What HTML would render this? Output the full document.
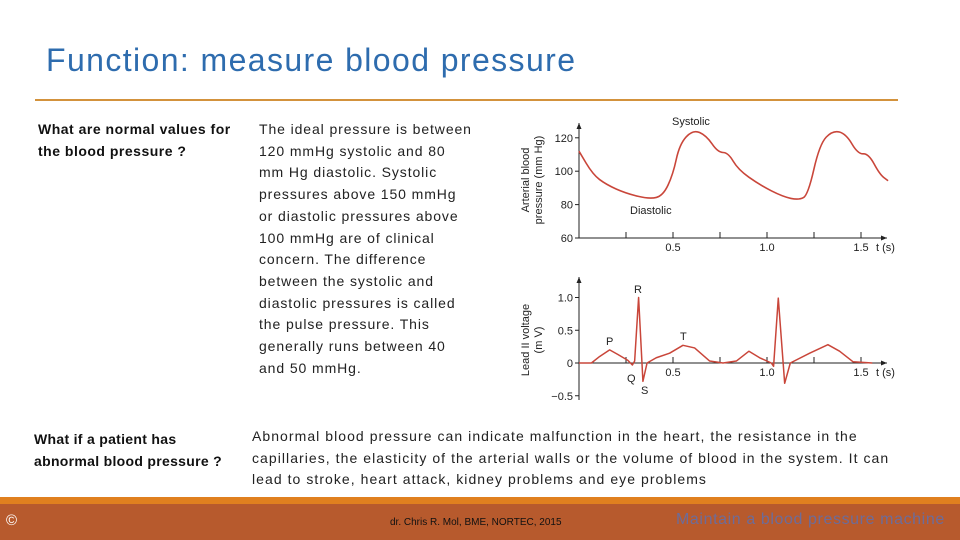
<!DOCTYPE html>
<html><head><meta charset="utf-8">
<style>
body{margin:0;width:960px;height:540px;position:relative;overflow:hidden;background:#fff;font-family:"Liberation Sans",sans-serif;}
.abs{position:absolute;}
.t{font-size:14px;line-height:21.7px;color:#222;white-space:nowrap;}
</style></head><body>
<div class="abs" style="left:46px;top:42px;font-size:32px;color:#2E6CAE;letter-spacing:1.4px;white-space:nowrap;">Function: measure blood pressure</div>
<div class="abs" style="left:35px;top:99px;width:863px;height:2px;background:#D3923C;"></div>
<div class="abs t" style="left:38px;top:119px;font-weight:bold;font-size:14px;color:#111;letter-spacing:0.5px;">What are normal values for<br>the blood pressure ?</div>
<div class="abs t" style="left:259px;top:119px;letter-spacing:0.9px;">The ideal pressure is between<br>120 mmHg systolic and 80<br>mm Hg diastolic. Systolic<br>pressures above 150 mmHg<br>or diastolic pressures above<br>100 mmHg are of clinical<br>concern. The difference<br>between the systolic and<br>diastolic pressures is called<br>the pulse pressure. This<br>generally runs between 40<br>and 50 mmHg.</div>
<div class="abs t" style="left:34px;top:429px;font-weight:bold;font-size:14px;color:#111;letter-spacing:0.3px;">What if a patient has<br>abnormal blood pressure ?</div>
<div class="abs t" style="left:252px;top:426px;letter-spacing:1.05px;">Abnormal blood pressure can indicate malfunction in the heart, the resistance in the<br>capillaries, the elasticity of the arterial walls or the volume of blood in the system. It can<br>lead to stroke, heart attack, kidney problems and eye problems</div>
<div class="abs" style="left:0;top:497px;width:960px;height:7px;background:#E0801F;"></div>
<div class="abs" style="left:0;top:504px;width:960px;height:36px;background:#B75A2D;"></div>
<div class="abs" style="left:6px;top:512px;font-size:15px;color:#fff;">©</div>
<div class="abs" style="left:390px;top:517px;font-size:10px;color:#111;">dr. Chris R. Mol, BME, NORTEC, 2015</div>
<div class="abs" style="left:676px;top:511px;font-size:16px;color:#6C6C9A;letter-spacing:0.6px;white-space:nowrap;">Maintain a blood pressure machine</div>

<svg class="abs" style="left:0;top:0" width="960" height="540" font-family="Liberation Sans, sans-serif">
<g id="bp"></g>
<g id="ecg"></g>
</svg>
<script>
const bpT=[0,0.074,0.145,0.25,0.376,0.447,0.5,0.535,0.606,0.677,0.739,0.793,0.846,0.961,1.085,1.17,1.218,1.28,1.35,1.42,1.484,1.54,1.6,1.644];
const bpP=[112,98,92,86.7,83.3,85.3,98,116.3,124.9,121.4,111.2,111.2,101,91.8,84.7,82.7,85.7,116.3,124.5,122.4,110.2,110.6,98,94.3];
const bpYTicks=[60,80,100,120];
const ecgT=[0,0.066,0.11,0.163,0.207,0.26,0.284,0.296,0.317,0.34,0.362,0.411,0.482,0.553,0.615,0.695,0.766,0.837,0.904,0.961,1.023,1.035,1.06,1.094,1.124,1.227,1.324,1.386,1.457,1.56];
const ecgV=[0,0,0.1,0.2,0.13,0.04,-0.03,0.03,1.0,-0.28,0,0.08,0.15,0.27,0.23,0.03,0,0.03,0.18,0.08,0,-0.05,0.99,-0.31,0,0.15,0.28,0.18,0.02,0];
const ecgYTicks=[-0.5,0,0.5,1.0];
const ecgYLabels=["\u22120.5","0","0.5","1.0"];
const xTickLabels=["0.5","1.0","1.5"];
const xTicks=[0.25,0.5,0.75,1.0,1.25,1.5];
const NS="http://www.w3.org/2000/svg";
const X=t=>579+t*188;
const bpY=p=>238-(p-60)*33.4/20;
const ecgY=v=>363-v*65.5;
function el(tag,attrs,parent,txt){const e=document.createElementNS(NS,tag);for(const k in attrs)e.setAttribute(k,attrs[k]);if(txt!==undefined)e.textContent=txt;parent.appendChild(e);return e;}
function path(xs,ys){let d="M"+xs[0]+","+ys[0];for(let i=1;i<xs.length;i++){const x0=xs[i-1],y0=ys[i-1],x1=xs[i],y1=ys[i];const mx=(x0+x1)/2;d+=" Q"+x0+","+y0+" "+mx+","+(y0+y1)/2;}d+=" L"+xs[xs.length-1]+","+ys[ys.length-1];return d;}
function axes(g,y0,yTop,yBot,ticks,labels,yf,name){
  let a=el("line",{x1:X(0),y1:yBot,x2:X(0),y2:yTop,stroke:"#222","stroke-width":1},g);
  
  el("path",{d:`M${X(0)-2.5},${yTop+6} L${X(0)},${yTop} L${X(0)+2.5},${yTop+6}Z`,fill:"#222"},g);
  let b=el("line",{x1:X(0),y1:y0,x2:887,y2:y0,stroke:"#222","stroke-width":1},g);
  
  el("path",{d:`M881,${y0-2.5} L887,${y0} L881,${y0+2.5}Z`,fill:"#222"},g);
  xTicks.forEach(t=>el("line",{x1:X(t),x2:X(t),y1:y0-6,y2:y0,stroke:"#222"},g));
  ticks.forEach((v,i)=>{el("line",{x1:X(0)-4,x2:X(0),y1:yf(v),y2:yf(v),stroke:"#222"},g);
    const tx=el("text",{x:X(0)-6,y:yf(v)+4,"font-size":11,"text-anchor":"end",fill:"#222"},g,labels[i]);
    });
  [0.5,1.0,1.5].forEach((t,i)=>{const tx=el("text",{x:X(t),y:y0+13,"font-size":11,"text-anchor":"middle",fill:"#222"},g,xTickLabels[i]);
    });
  el("text",{x:876,y:y0+13,"font-size":11,fill:"#222"},g,"t (s)");
}
const bp=document.getElementById("bp");
axes(bp,238,123,238,bpYTicks,bpYTicks.map(String),bpY,"bp");
let l1=el("path",{d:path(bpT.map(X),bpP.map(bpY)),fill:"none",stroke:"#C9463A","stroke-width":1.6},bp);

el("text",{x:672,y:125,"font-size":11,fill:"#222"},bp,"Systolic");
el("text",{x:630,y:214,"font-size":11,fill:"#222"},bp,"Diastolic");
let yt=el("text",{transform:"translate(529,180) rotate(-90)","font-size":11,"text-anchor":"middle",fill:"#222"},bp);
el("tspan",{x:0,dy:0},yt,"Arterial blood");el("tspan",{x:0,dy:13},yt,"pressure (mm Hg)");

const ecg=document.getElementById("ecg");
axes(ecg,363,277,400,ecgYTicks,ecgYLabels,ecgY,"ecg");
let l2=el("path",{d:"M"+ecgT.map((t,i)=>X(t)+","+ecgY(ecgV[i])).join(" L"),fill:"none",stroke:"#C9463A","stroke-width":1.5,"stroke-linejoin":"round"},ecg);

[["P",606,345],["R",634,293],["T",680,340],["Q",627,382],["S",641,394]].forEach(a=>el("text",{x:a[1],y:a[2],"font-size":11,fill:"#222"},ecg,a[0]));
let yt2=el("text",{transform:"translate(529,340) rotate(-90)","font-size":11,"text-anchor":"middle",fill:"#222"},ecg);
el("tspan",{x:0,dy:0},yt2,"Lead II voltage");el("tspan",{x:0,dy:13},yt2,"(m V)");

</script>
</body></html>
